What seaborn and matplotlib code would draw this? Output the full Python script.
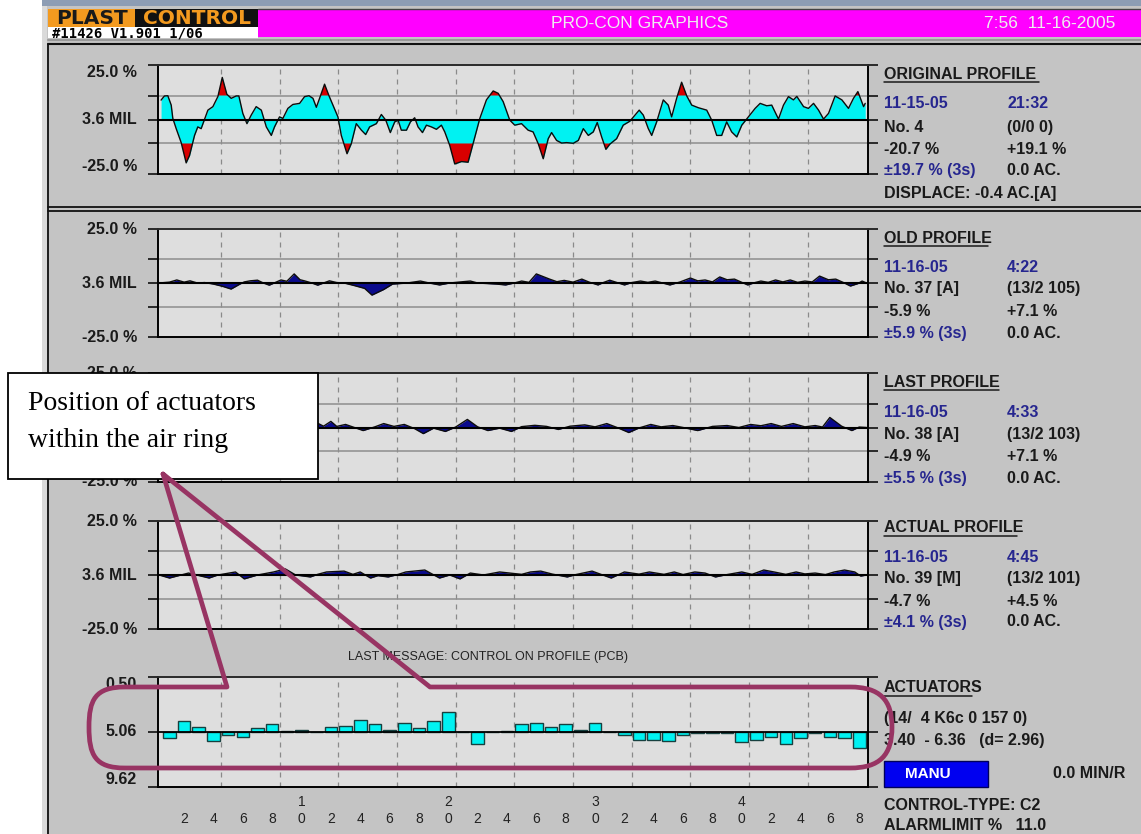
import numpy as np
import matplotlib
matplotlib.use("Agg")
import matplotlib.pyplot as plt
import seaborn as sns
from matplotlib.patches import Rectangle, PathPatch
from matplotlib.path import Path
from matplotlib.transforms import offset_copy

# ---------------- data ----------------
# ORIGINAL PROFILE: deviation (%) along the die circumference (actuator units)
orig_pos = [0.43, 0.66, 0.89, 1.12, 1.23, 1.46, 1.80, 2.14, 2.37, 2.71,
            2.93, 3.16, 3.39, 3.62, 3.96, 4.30, 4.60, 4.91, 5.21, 5.55,
            5.73, 6.00, 6.28, 6.57, 6.91, 7.26, 7.60, 7.94, 8.16, 8.50,
            8.73, 9.07, 9.41, 9.87, 10.21, 10.51, 10.78, 11.01, 11.23, 11.57,
            11.87, 12.14, 12.48, 12.71, 13.10, 13.39, 13.73, 14.08, 14.37, 14.64,
            15.10, 15.44, 15.74, 16.05, 16.35, 16.58, 16.80, 17.15, 17.42, 17.71,
            17.94, 18.24, 18.51, 18.85, 19.19, 19.53, 19.76, 20.10, 20.44, 20.90,
            21.35, 21.69, 22.15, 22.60, 23.06, 23.40,
            23.74, 24.19, 24.53, 24.99, 25.44, 25.78, 26.13, 26.47, 26.81, 27.04,
            27.38, 27.72, 28.06, 28.52, 28.86, 29.20, 29.54, 29.88, 30.15, 30.45,
            30.74, 31.01, 31.47, 31.92, 32.37, 32.72, 33.01, 33.29, 33.63, 33.86,
            34.20, 34.65, 34.99, 35.22, 35.56, 35.90, 36.25, 36.59, 37.04, 37.61,
            37.95, 38.29, 38.63, 38.97, 39.31, 39.66, 40.00, 40.45, 40.91, 41.25,
            41.70, 42.04, 42.50, 42.84, 43.18, 43.52, 43.75, 44.21, 44.54, 44.89,
            45.23, 45.57, 45.91, 46.36, 46.82, 47.27, 47.61, 47.91, 48.30, 48.41]
orig_val = [8.9, 10.8, 10.9, 6.6, 0.5, -4.2, -10.6, -19.9, -16.5, -7.3,
            -3.4, -4.2, 0.0, 4.3, 5.9, 10.5, 19.3, 11.6, 9.7, 10.8,
            10.8, 2.8, -1.9, 2.0, 5.9, 4.3, -3.4, -7.3, -3.4, 1.2,
            0.5, 5.1, 6.9, 7.4, 10.5, 10.9, 9.7, 5.6, 9.7, 16.2,
            10.9, 6.6, 1.2, -7.3, -15.7, -11.1, -1.9, -4.9, -6.9, -3.4,
            -1.9, 2.3, -0.3, -6.0, -1.1, -0.3, -4.9, -4.9, -1.1, 0.8,
            -3.4, -6.0, -2.6, -3.4, -4.5, -2.6, -5.7, -11.9, -20.4, -19.3,
            -19.6, -11.1, 0.5, 9.0, 13.1, 12.0,
            8.2, -0.3, -2.6, -1.9, -4.9, -5.7, -11.1, -18.0, -8.8, -6.0,
            -9.6, -10.8, -10.6, -10.9, -9.6, -4.2, -7.3, -5.7, -1.4, -8.0,
            -13.7, -11.3, -8.8, -2.6, -0.8, 2.0, 4.3, 2.0, -4.2, -7.3,
            -1.1, 9.0, 6.6, 1.2, 9.7, 17.1, 10.8, 6.6, 5.4, 4.3,
            -0.3, -7.3, -7.3, -1.1, -5.7, -8.0, -2.6, 1.2, 5.1, 7.4,
            6.3, 6.6, 0.2, 6.6, 10.5, 9.0, 10.6, 5.9, 5.1, 7.4,
            4.3, 0.2, 2.8, 10.8, 9.0, 5.1, 9.7, 12.8, 5.9, 7.4]

# OLD PROFILE
old_pos = [0.3, 1.0, 1.5, 2.0, 2.4, 2.9, 3.4, 4.0, 4.6, 5.2, 5.8, 6.1, 6.5, 7.0, 7.4,
           7.8, 8.2, 8.6, 9.0, 9.5, 9.9, 10.2, 10.7, 11.1, 11.5, 11.9, 12.4, 12.9, 13.6,
           14.3, 14.8, 15.6, 16.2, 17.2, 18.1, 18.7, 19.4, 20.1, 21.0, 21.5, 22.0, 23.3,
           23.9, 24.5, 25.0, 25.5, 26.0, 26.9, 27.4, 27.9, 28.5, 29.1, 29.6, 30.2, 30.6,
           31.0, 31.5, 32.0, 32.5, 33.1, 33.6, 34.1, 34.6, 35.1, 35.8, 36.5, 37.0, 37.5,
           38.0, 38.5, 39.0, 39.5, 40.0, 40.4, 40.9, 41.3, 41.8, 42.3, 42.8, 43.3, 43.8,
           44.3, 44.8, 45.3, 45.9, 46.4, 46.9, 47.4, 47.9, 48.2, 48.5]
old_val = [0.0, 0.4, 1.4, 0.4, 1.0, 0.0, 0.2, -0.5, -1.5, -2.8, -0.5, 0.5, 1.0, 1.3, 0.0,
           -1.0, 0.2, 1.4, 0.8, 4.2, 1.5, 1.0, 0.0, -1.0, 0.0, 1.0, 0.2, 0.0, -1.2,
           -2.5, -5.6, -3.0, -0.5, 0.0, 0.9, 0.0, -0.9, 0.0, 0.6, 0.9, 0.0, -0.5,
           -0.9, 0.0, 0.9, 0.3, 4.2, 1.8, 0.6, 1.2, 0.4, 1.8, 0.4, -0.9, 0.3,
           1.3, 0.2, -0.9, 0.2, 0.9, 0.3, 0.9, 0.0, -0.9, 0.5, 2.3, 1.0, 1.4,
           0.5, 2.8, 1.5, 1.8, 0.3, -0.9, 0.2, 0.9, 0.3, 1.4, 0.5, 1.4, 0.3,
           0.9, 0.5, 3.2, 1.5, 1.8, 0.3, -1.4, -0.3, 0.9, 0.0]

# LAST PROFILE
last_pos = [0.3, 1.5, 2.5, 3.5, 4.5, 5.5, 6.5, 7.5, 8.5, 9.5, 10.3, 11.0, 11.5, 12.0, 12.4,
            13.0, 13.6, 14.2, 15.0, 15.6, 16.3, 17.0, 17.7, 18.3, 19.0, 19.8, 20.5, 21.3,
            22.0, 22.7, 23.5, 24.3, 25.0, 25.9, 26.7, 27.5, 28.3, 29.3, 30.0, 30.8, 31.5,
            32.3, 33.0, 33.8, 34.5, 35.3, 36.0, 37.0, 38.0, 39.0, 39.8, 40.6, 41.3, 42.0,
            42.7, 43.5, 44.3, 45.0, 45.5, 46.0, 46.8, 47.5, 48.0, 48.5]
last_val = [0.0, 0.8, -0.8, 1.2, -0.6, 0.9, -0.5, 1.0, 0.0, 1.4, 0.0, 2.3, 0.6, 2.8, 0.5,
            1.4, 0.0, -1.4, 0.3, 1.8, 0.5, 1.4, -0.5, -2.8, -0.3, -1.8, 0.2, 3.7, 0.3,
            -1.4, -0.3, -1.8, 0.4, 1.0, 0.5, -0.9, 0.6, 1.2, 0.3, 1.8, 0.0, -2.3, -0.2,
            1.4, 0.3, 0.9, 0.0, -1.4, 0.5, 0.9, 0.0, 1.4, 0.8, 1.8, 0.5, 1.8, 0.3,
            0.9, 0.2, 4.6, 0.6, -1.4, 0.2, 0.0]

# ACTUAL PROFILE
act_pos = [0.3, 1.0, 2.3, 3.7, 4.3, 5.5, 6.1, 7.0, 8.1, 8.9, 9.6, 10.6, 11.1, 11.7, 12.9,
           13.5, 14.0, 14.7, 15.2, 15.9, 16.6, 17.1, 18.4, 19.4, 20.1, 20.8, 21.5, 22.4,
           23.5, 25.0, 25.6, 26.3, 27.1, 28.1, 28.7, 29.8, 30.4, 31.1, 32.0, 33.0, 33.7,
           34.7, 35.4, 36.0, 36.8, 37.5, 38.2, 39.0, 40.0, 40.7, 41.5, 42.2, 43.0, 43.7,
           44.3, 45.0, 45.7, 46.3, 47.0, 47.7, 48.1, 48.5]
act_val = [0.0, -1.4, 0.9, -1.4, 0.0, 1.4, -1.8, 0.0, 1.4, 2.8, 0.0, -0.9, 0.3, 1.4, 1.8,
           0.3, 1.4, -1.4, -0.3, -0.9, 0.3, 1.4, 2.3, -1.4, 0.0, -1.8, 0.9, 0.0,
           1.4, 0.3, 1.4, 1.8, 0.4, -0.9, 0.2, 1.8, 0.3, -1.4, 1.4, 0.4, 1.4,
           0.3, 1.4, 0.2, 1.4, 0.9, -0.9, 0.2, 1.4, 0.3, 2.3, 1.4, 0.3, 1.4,
           0.5, 0.9, 0.2, 1.4, 2.3, 1.4, -0.5, 0.0]

# ACTUATORS: position values (scale 0.50 .. 9.62, centre 5.06)
actuator_no = list(range(1, 49))
actuator_val = [5.56, 4.18, 4.65, 5.78, 5.34, 5.45, 4.76, 4.40, 4.95, 4.87,
                5.06, 4.65, 4.54, 4.07, 4.40, 4.87, 4.29, 4.76, 4.18, 3.40,
                5.06, 6.03, 5.06, 4.98, 4.40, 4.29, 4.65, 4.40, 4.87, 4.29,
                5.06, 5.34, 5.70, 5.70, 5.78, 5.34, 5.14, 5.14, 5.14, 5.92,
                5.70, 5.45, 6.03, 5.56, 5.12, 5.45, 5.56, 6.36]

profile_ticks = [25.0, 0.0, -25.0]
profile_tick_labels = ["25.0 %", "3.6 MIL", "-25.0 %"]
alarm_limit = 11.0
act_ticks = [0.50, 5.06, 9.62]
act_tick_labels = ["0.50", "5.06", "9.62"]

# ---------------- style ----------------
sns.set_style("white")
plt.rcParams["font.family"] = ["Liberation Sans", "DejaVu Sans"]

W, H, DPI = 1141, 834, 100
WIN_BG = "#c4c4c4"
PLOT_BG = "#dedede"
CYAN = "#00f2f2"
RED = "#d80000"
NAVY = "#0a0a8c"
BLUE_TXT = "#26268f"
PURPLE = "#983463"
XLO, XHI = 0.22, 48.6
DASH_X = np.arange(4.5, 45, 4.0)

fig = plt.figure(figsize=(W / DPI, H / DPI), dpi=DPI)
fig.patch.set_facecolor("white")


def frac(l, t, r, b):
    return [l / W, 1 - b / H, (r - l) / W, (b - t) / H]


# background / window chrome in pixel coordinates
bg = fig.add_axes([0, 0, 1, 1], zorder=0)
bg.set_xlim(0, W)
bg.set_ylim(H, 0)
bg.axis("off")
bg.add_patch(Rectangle((42, 0), W - 42, H, color=WIN_BG, lw=0))
bg.add_patch(Rectangle((42, 0), W - 42, 6, color="#8d9db4", lw=0))
bg.add_patch(Rectangle((42, 6), 5, H, color="#dadada", lw=0))
# logo
bg.add_patch(Rectangle((48, 9), 87, 18, color="#f39a1f", lw=0))
bg.add_patch(Rectangle((135, 9), 123, 18, color="#111111", lw=0))
bg.add_patch(Rectangle((48, 27), 210, 11, color="white", lw=0))
bg.text(92, 18.5, "PLAST", ha="center", va="center", fontsize=14.5, fontweight="bold",
        color="#1a1a1a", family="DejaVu Sans")
bg.text(197, 18.5, "CONTROL", ha="center", va="center", fontsize=14.5, fontweight="bold",
        color="#f39a1f", family="DejaVu Sans")
bg.text(52, 33, "#11426 V1.901 1/06", ha="left", va="center", fontsize=10,
        fontweight="bold", color="black", family="DejaVu Sans Mono")
# title bar
bg.add_patch(Rectangle((258, 9), W - 258, 28, color="#ff00ff", lw=0))
bg.plot([258, W], [8.5, 8.5], color="#444444", lw=1)
bg.plot([48, W], [39.5, 39.5], color="#999999", lw=1.5)
bg.text(640, 23, "PRO-CON GRAPHICS", ha="center", va="center", fontsize=12.5,
        color="#eeeeee")
bg.text(1115, 23, "7:56  11-16-2005", ha="right", va="center", fontsize=12.5,
        color="#eeeeee")
# frames
bg.plot([48, W], [44, 44], color="#111111", lw=1.5)
bg.plot([48, 48], [44, H], color="#111111", lw=1.3)
bg.plot([48, W], [207, 207], color="#111111", lw=1.3)
bg.plot([48, W], [211, 211], color="#111111", lw=1.3)


def right_block(y0, title, rows):
    bg.text(884, y0, title, ha="left", va="center", fontsize=11.5, fontweight="bold",
            color="#1a1a1a")
    tw = {"ORIGINAL PROFILE": 155, "OLD PROFILE": 104, "LAST PROFILE": 115,
          "ACTUAL PROFILE": 133, "ACTUATORS": 88}[title]
    bg.plot([884, 884 + tw], [y0 + 8, y0 + 8], color="#1a1a1a", lw=1.1)
    for y, a, b, col in rows:
        bg.text(884, y, a, ha="left", va="center", fontsize=11.5, fontweight="bold", color=col)
        if b:
            bg.text(1007, y, b, ha="left", va="center", fontsize=11.5, fontweight="bold",
                    color=BLUE_TXT if col == BLUE_TXT and ":" in b else "#1a1a1a")


K = "#1a1a1a"
right_block(74, "ORIGINAL PROFILE", [
    (103, "11-15-05", "21:32", BLUE_TXT), (127, "No. 4", "(0/0 0)", K),
    (149, "-20.7 %", "+19.1 %", K), (170, "±19.7 % (3s)", "0.0 AC.", BLUE_TXT),
    (193, "DISPLACE: -0.4 AC.[A]", "", K)])
right_block(238, "OLD PROFILE", [
    (267, "11-16-05", "4:22", BLUE_TXT), (289, "No. 37 [A]", "(13/2 105)", K),
    (311, "-5.9 %", "+7.1 %", K), (333, "±5.9 % (3s)", "0.0 AC.", BLUE_TXT)])
right_block(382, "LAST PROFILE", [
    (412, "11-16-05", "4:33", BLUE_TXT), (434, "No. 38 [A]", "(13/2 103)", K),
    (456, "-4.9 %", "+7.1 %", K), (478, "±5.5 % (3s)", "0.0 AC.", BLUE_TXT)])
right_block(528, "ACTUAL PROFILE", [
    (558, "11-16-05", "4:45", BLUE_TXT), (579, "No. 39 [M]", "(13/2 101)", K),
    (601, "-4.7 %", "+4.5 %", K), (622, "±4.1 % (3s)", "0.0 AC.", BLUE_TXT)])
right_block(688, "ACTUATORS", [
    (719, "(14/  4 K6c 0 157 0)", "", K), (740, "3.40  - 6.36   (d= 2.96)", "", K)])
bg.add_patch(Rectangle((884, 761), 104, 26, facecolor="#0000f0", edgecolor="#00005a", lw=1))
bg.text(928, 774, "MANU", ha="center", va="center", fontsize=11, fontweight="bold", color="white")
bg.text(1125, 774, "0.0 MIN/R", ha="right", va="center", fontsize=11.5, fontweight="bold", color=K)
bg.text(884, 805, "CONTROL-TYPE: C2", ha="left", va="center", fontsize=11.5, fontweight="bold", color=K)
bg.text(884, 826, "ALARMLIMIT %   11.0", ha="left", va="center", fontsize=11.5, fontweight="bold", color=K)
bg.text(488, 657, "LAST MESSAGE: CONTROL ON PROFILE (PCB)", ha="center", va="center",
        fontsize=9, color="#222222")


def style_axes(ax, ticks, labels, vas, minor=None, show=(True, True, True)):
    ax.set_facecolor(PLOT_BG)
    ax.set_xlim(XLO, XHI)
    for s in ["left", "right", "bottom"]:
        ax.spines[s].set_color("black")
        ax.spines[s].set_linewidth(1.4)
    ax.spines["top"].set_color("#2a2a2a")
    ax.spines["top"].set_linewidth(1.4)
    allt = list(ticks) + (list(minor) if minor else [])
    ax.set_yticks(allt)
    ax.set_yticklabels([])
    ax.tick_params(axis="y", direction="out", length=7, width=1.1, color="black",
                   left=True, right=True)
    ax.tick_params(axis="x", bottom=False, labelbottom=False)
    ax.set_xlabel("")
    ax.set_ylabel("")
    for xv in DASH_X:
        ax.axvline(xv, color="#8a8a8a", lw=0.9, ls=(0, (4, 4)), zorder=0.5)
    tr = offset_copy(ax.get_yaxis_transform(), fig=fig, x=-21, y=0, units="dots")
    for t, lab, va, sh in zip(ticks, labels, vas, show):
        if sh:
            ax.text(0, t, lab, transform=tr, ha="right", va=va, fontsize=11.5,
                    fontweight="bold", color="#1a1a1a")


def profile_panel(top, bottom, pos, val, original=False, vas=("center",) * 3,
                  show=(True, True, True)):
    ax = fig.add_axes(frac(158, top, 868, bottom), zorder=2)
    pos = np.asarray(pos, float)
    val = np.asarray(val, float)
    ax.set_ylim(-25, 25)
    style_axes(ax, profile_ticks, profile_tick_labels, vas,
               [alarm_limit, -alarm_limit], show)
    ax.axhline(alarm_limit, color="#8e8e8e", lw=1.1, zorder=0.6)
    ax.axhline(-alarm_limit, color="#8e8e8e", lw=1.1, zorder=0.6)
    if original:
        ax.fill_between(pos, 0, val, color=CYAN, lw=0, zorder=1)
        ax.fill_between(pos, alarm_limit, val, where=val > alarm_limit, interpolate=True,
                        color=RED, lw=0, zorder=1.1)
        ax.fill_between(pos, -alarm_limit, val, where=val < -alarm_limit, interpolate=True,
                        color=RED, lw=0, zorder=1.1)
    else:
        ax.fill_between(pos, 0, val, color=NAVY, lw=0, zorder=1)
    sns.lineplot(x=pos, y=val, ax=ax, color="#0c0c0c", lw=1.0, sort=False,
                 estimator=None, zorder=2)
    ax.axhline(0, color="black", lw=1.5, zorder=2.5)
    ax.set_xlim(XLO, XHI)
    ax.set_ylim(-25, 25)
    ax.set_xlabel("")
    ax.set_ylabel("")
    return ax


profile_panel(65, 174, orig_pos, orig_val, original=True,
              vas=("top", "center", "bottom"))
profile_panel(229, 337, old_pos, old_val)
# the centre label of this panel is completely covered by the callout box
profile_panel(373, 482, last_pos, last_val, show=(True, False, True))
profile_panel(521, 629, act_pos, act_val)

# actuator panel
axa = fig.add_axes(frac(158, 677, 868, 787), zorder=2)
axa.set_ylim(9.62, 0.50)
style_axes(axa, act_ticks, act_tick_labels, ("top", "center", "bottom"))
vals = np.asarray(actuator_val)
axa.bar(actuator_no, vals - 5.06, bottom=5.06, width=0.86, color=CYAN,
        edgecolor="#17403f", lw=1.0, zorder=1)
axa.axhline(5.06, color="black", lw=1.3, zorder=2)
axa.set_ylim(9.62, 0.50)
axa.set_xlim(XLO, XHI)
even = list(range(2, 49, 2))
axa.set_xticks(even)
axa.set_xticklabels([(f"{n // 10}\n0" if n % 10 == 0 else f" \n{n % 10}") for n in even],
                    fontsize=10, color="#222222", linespacing=1.25)
axa.tick_params(axis="x", bottom=True, labelbottom=True, length=0, pad=6)

# annotation overlay
ov = fig.add_axes([0, 0, 1, 1], zorder=10)
ov.set_xlim(0, W)
ov.set_ylim(H, 0)
ov.axis("off")
ov.patch.set_alpha(0)
ov.add_patch(Rectangle((8, 373), 310, 106, facecolor="white", edgecolor="black", lw=1.3))
ov.text(28, 403, "Position of actuators", ha="left", va="center", fontsize=20,
        family="Liberation Serif", color="black")
ov.text(28, 440, "within the air ring", ha="left", va="center", fontsize=20,
        family="Liberation Serif", color="black")
verts = [(163, 474), (430, 687), (850, 687),
         (880, 687), (892, 700), (892, 727),
         (892, 755), (880, 768), (850, 768),
         (125, 768),
         (95, 768), (89, 755), (89, 727),
         (89, 700), (95, 687), (125, 687),
         (227, 687), (163, 474)]
codes = [Path.MOVETO, Path.LINETO, Path.LINETO,
         Path.CURVE4, Path.CURVE4, Path.CURVE4,
         Path.CURVE4, Path.CURVE4, Path.CURVE4,
         Path.LINETO,
         Path.CURVE4, Path.CURVE4, Path.CURVE4,
         Path.CURVE4, Path.CURVE4, Path.CURVE4,
         Path.LINETO, Path.LINETO]
ov.add_patch(PathPatch(Path(verts, codes), facecolor="none", edgecolor=PURPLE, lw=3.4,
                       joinstyle="round", capstyle="round"))

fig.savefig("out.png", dpi=DPI)
